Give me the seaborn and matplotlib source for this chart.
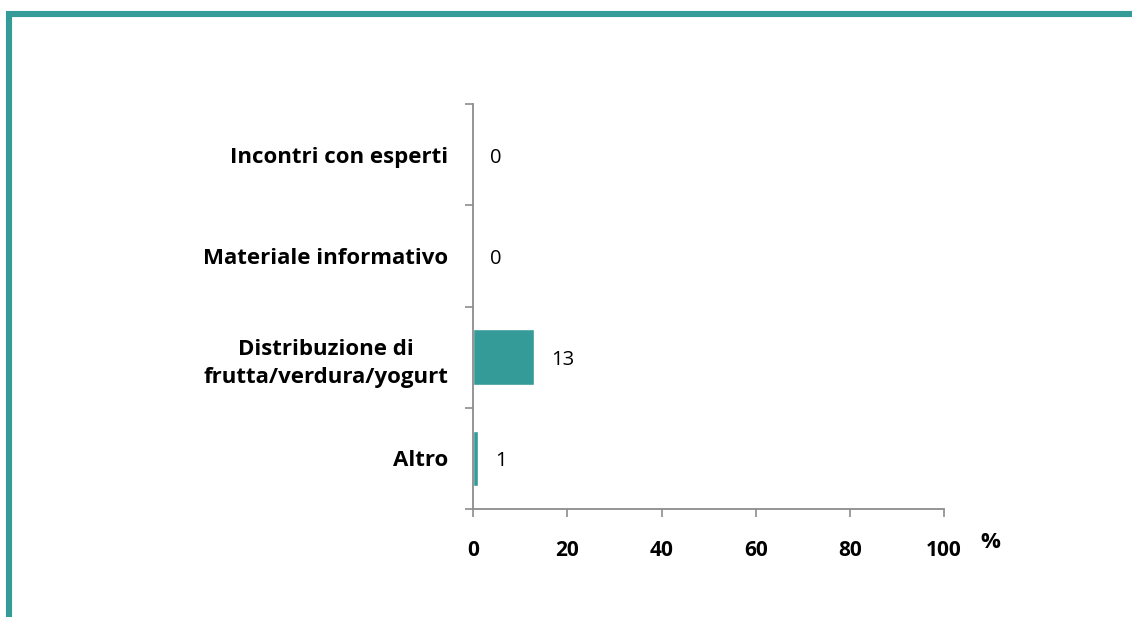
import pandas as pd
import numpy as np
import matplotlib
matplotlib.use('Agg')
import matplotlib.pyplot as plt
from matplotlib.lines import Line2D
import seaborn as sns

# dati
categorie = ['Incontri con esperti', 'Materiale informativo',
             'Distribuzione di\nfrutta/verdura/yogurt', 'Altro']
valori = [0, 0, 13, 1]
xticks = [0, 20, 40, 60, 80, 100]

teal = '#349b98'
grigio = '#8c8c8c'

df = pd.DataFrame({'cat': categorie, 'val': valori})

sns.set_style('white')
plt.rcParams['font.family'] = ['Open Sans', 'DejaVu Sans']
plt.rcParams['text.color'] = 'black'
plt.rcParams['xtick.color'] = 'black'
plt.rcParams['ytick.color'] = 'black'

fig = plt.figure(figsize=(11.32, 6.17), dpi=100)
ax = fig.add_axes([0.418, 0.175, 0.416, 0.656])

sns.barplot(data=df, x='val', y='cat', orient='h', color=teal,
            saturation=1, width=0.55, ax=ax)

# etichette dei valori
for i, v in enumerate(valori):
    ax.text(v + 3.6, i + 0.03, str(v), va='center', ha='left', fontsize=14.5, color='black')

ax.set_xlim(0, 100)
ax.set_ylim(3.5, -0.5)
ax.set_xticks(xticks)
ax.set_xticklabels([str(t) for t in xticks], fontsize=15, fontweight='bold')
ax.set_yticks(np.arange(-0.5, 4.0, 1.0), minor=False)
ax.set_yticklabels([])
ax.set_yticks(range(len(categorie)), minor=True)
ax.set_yticklabels(categorie, minor=True, fontsize=16, fontweight='bold',
                   multialignment='center', linespacing=1.45)
ax.tick_params(axis='y', which='minor', left=True, length=0, pad=18)
ax.tick_params(axis='y', which='major', left=True, length=6, width=1.2,
               color=grigio, direction='out')
ax.tick_params(axis='x', bottom=True, length=6, width=1.2, color=grigio,
               direction='out', pad=16)
ax.set_xlabel('')
ax.set_ylabel('')

for s in ['top', 'right']:
    ax.spines[s].set_visible(False)
for s in ['left', 'bottom']:
    ax.spines[s].set_color(grigio)
    ax.spines[s].set_linewidth(1.3)

fig.text(0.8746, 0.12, '%', fontsize=16, fontweight='bold', ha='center', va='center')

# cornice verde in alto e a sinistra
fig.add_artist(Line2D([9 / 1132, 1], [1 - 14 / 617, 1 - 14 / 617], color=teal,
                      lw=4.4, transform=fig.transFigure, solid_capstyle='butt'))
fig.add_artist(Line2D([9 / 1132, 9 / 1132], [0, 1 - 11 / 617], color=teal,
                      lw=4.4, transform=fig.transFigure, solid_capstyle='butt'))

fig.savefig('out.png', dpi=100)
